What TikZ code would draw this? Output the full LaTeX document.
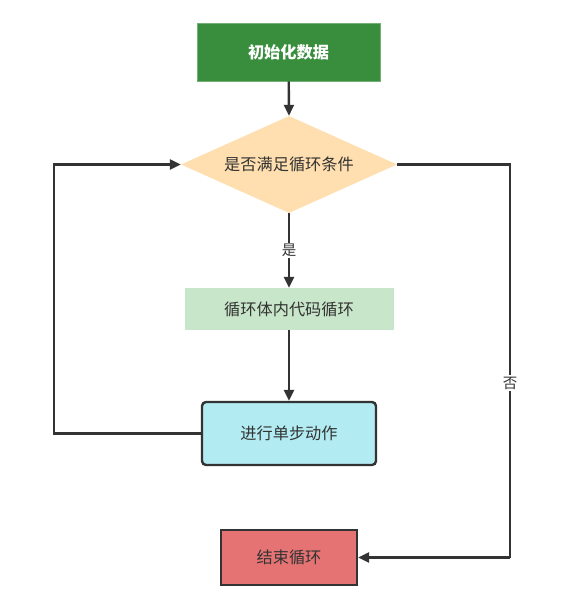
\documentclass[tikz,border=0pt]{standalone}
\usepackage{fontspec}
\newfontfamily\cjk{Noto Sans CJK SC}
\usetikzlibrary{arrows.meta,shapes.geometric}
\definecolor{lc}{HTML}{333333}
\definecolor{initc}{HTML}{388E3C}
\definecolor{diac}{HTML}{FFDFAF}
\definecolor{bodyc}{HTML}{C8E6C9}
\definecolor{stepc}{HTML}{B2EBF2}
\definecolor{endc}{HTML}{E57373}
\tikzset{
  txt/.style={font=\cjk\fontsize{16.2}{18}\selectfont, text=lc, inner sep=0pt},
  conn/.style={draw=lc, line width=2.4pt, -{Triangle[length=11pt,width=10pt]}},
  plain/.style={draw=lc, line width=2.4pt},
  lbl/.style={font=\cjk\fontsize{14.5}{16}\selectfont, text=lc, fill=white, inner sep=1.5pt}
}
\begin{document}
\begin{tikzpicture}[x=1pt,y=-1pt]
\useasboundingbox (0,0) rectangle (581,616);
\node[txt, minimum width=183pt, minimum height=58pt, fill=initc, draw=initc!70!white, line width=0.8pt, text=white, font=\cjk\bfseries\fontsize{16.2}{18}\selectfont] (init) at (288.5,52) {初始化数据};
\node[txt, diamond, aspect=2.23, fill=diac, minimum width=216pt, minimum height=97pt] (cond) at (289,164.5) {是否满足循环条件};
\node[txt, minimum width=209pt, minimum height=42pt, fill=bodyc] (body) at (289,309) {循环体内代码循环};
\node[txt, minimum width=174pt, minimum height=63pt, fill=stepc, draw=lc, line width=2.4pt, rounded corners=4pt] (step) at (289,433.5) {进行单步动作};
\node[txt, minimum width=136pt, minimum height=55pt, fill=endc, draw=lc, line width=2.4pt] (end) at (289,557.5) {结束循环};
\coordinate (lb) at (54,433.5);
\coordinate (lt) at (54,164.5);
\coordinate (rt) at (510,164.5);
\coordinate (rb) at (510,557.5);
\draw[conn] (init) -- (cond.north);
\draw[conn] (cond.south) -- node[lbl, pos=0.5] {是} (body.north);
\draw[conn] (body) -- (step);
\draw[conn] (step.west) -- (lb) -- (lt) -- (cond.west);
\draw[plain] (cond.east) -- (rt) -- (rb);
\node[lbl] (no) at (510,383) {否};
\draw[conn] (rb) -- (end.east);
\end{tikzpicture}
\end{document}
